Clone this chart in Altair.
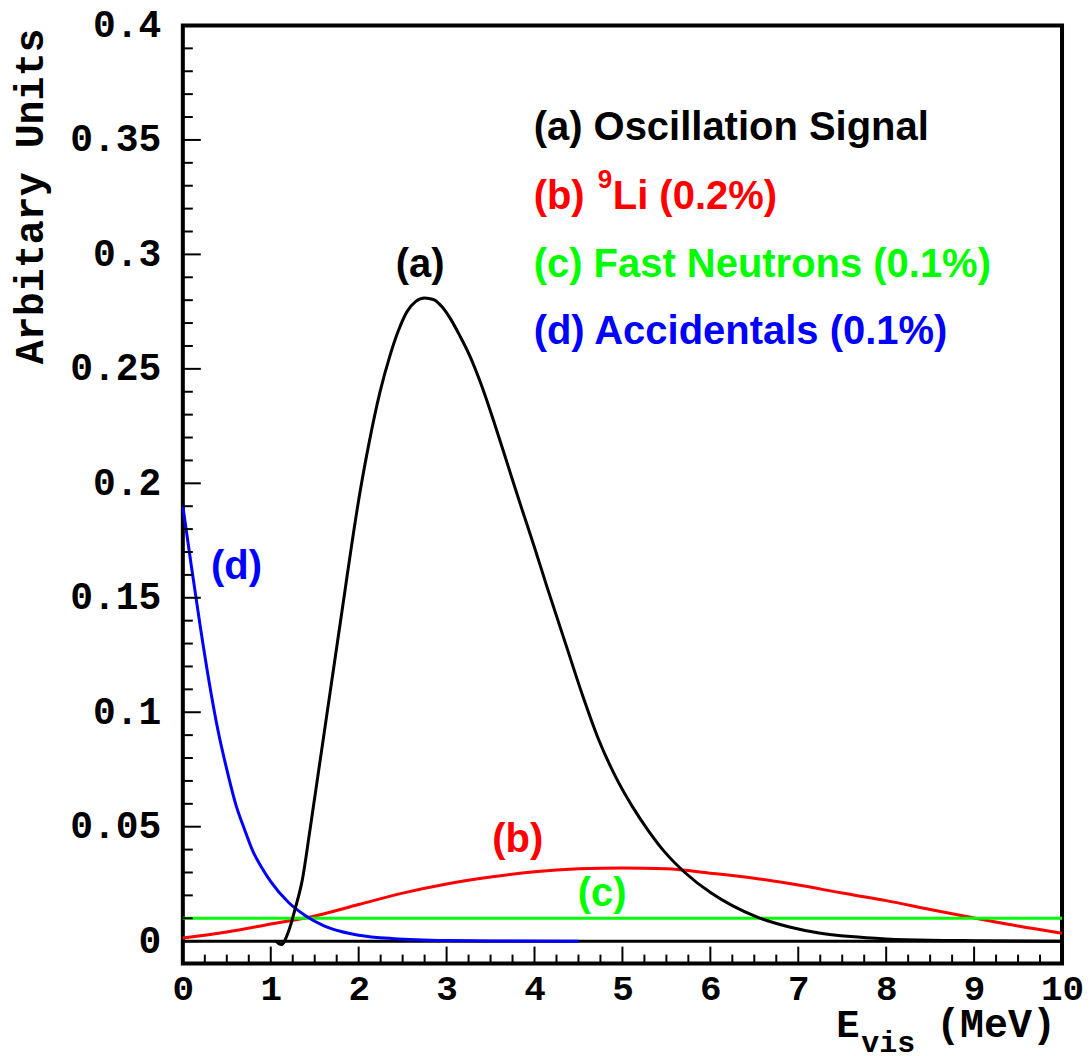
import altair as alt
import pandas as pd

# ---------------- data ----------------
# (a) Oscillation signal
sig_x = [1.06, 1.12, 1.20, 1.28, 1.36, 1.44, 1.52, 1.60, 1.68, 1.76, 1.84, 1.92,
         2.01, 2.12, 2.24, 2.35, 2.45, 2.55, 2.65, 2.75, 2.85, 2.95, 3.05, 3.15,
         3.26, 3.40, 3.55, 3.70, 3.85, 4.00, 4.14, 4.37, 4.55, 4.73, 4.92, 5.11,
         5.30, 5.48, 5.71, 6.01, 6.25, 6.54, 6.90, 7.22, 7.60, 8.0, 8.5, 9.0, 10.0]
sig_y = [0.0, -0.0015, 0.004, 0.0145, 0.027, 0.047, 0.068, 0.089, 0.110, 0.131,
         0.152, 0.173, 0.1950, 0.2180, 0.2395, 0.255, 0.2665, 0.275, 0.2795, 0.281,
         0.2803, 0.2770, 0.2715, 0.2645, 0.2560, 0.2425, 0.2255, 0.2075, 0.1895,
         0.172, 0.155, 0.128, 0.107, 0.088, 0.072, 0.059, 0.048, 0.039, 0.0300,
         0.0210, 0.0155, 0.0104, 0.0062, 0.0037, 0.0020, 0.0010, 0.0004, 0.0002, 0.0]

# (b) 9Li
li_x = [0, 0.5, 1.0, 1.5, 2.0, 2.5, 3.0, 3.5, 4.0, 4.5, 5.0, 5.5, 6.0, 6.5,
        7.0, 7.5, 8.0, 8.5, 9.0, 9.5, 10.0]
li_y = [0.0014, 0.004, 0.0075, 0.011, 0.016, 0.021, 0.025, 0.028, 0.0303,
        0.0316, 0.0320, 0.0316, 0.0297, 0.0275, 0.0245, 0.0210, 0.0177,
        0.0138, 0.0101, 0.0066, 0.0035]

# (c) fast neutrons (flat)
fn_x = [0, 10]
fn_y = [0.01, 0.01]

# (d) accidentals
acc_x = [0, 0.1, 0.2, 0.3, 0.4, 0.5, 0.6, 0.7, 0.8, 0.9, 1.0, 1.2, 1.4, 1.6,
         1.8, 2.0, 2.4, 3.0, 3.6, 4.5]
acc_y = [0.190, 0.163, 0.137, 0.113, 0.092, 0.075, 0.060, 0.049, 0.039, 0.032,
         0.026, 0.017, 0.011, 0.0068, 0.0042, 0.0026, 0.0011, 0.0003, 0.0001, 0.0]

# zero line
zero_x = [0, 10]
zero_y = [0, 0]

# axis ticks
x_major = list(range(0, 11))
x_minor = [i * 0.25 for i in range(41) if i % 4 != 0]
y_major = [round(i * 0.05, 2) for i in range(9)]
y_minor = [round(i * 0.01, 2) for i in range(41) if i % 5 != 0]

# annotations
legend_txt = ["(a) Oscillation Signal", "(b)", "Li (0.2%)",
              "(c) Fast Neutrons (0.1%)", "(d) Accidentals (0.1%)"]
legend_x = [3.99, 3.99, 4.89, 3.99, 3.99]
legend_y = [0.350, 0.320, 0.320, 0.290, 0.261]
legend_col = ["#000000", "#ff0000", "#ff0000", "#00ff00", "#0000ff"]

sup_txt = ["9"]
sup_x = [4.72]
sup_y = [0.329]

curve_lab = ["(a)", "(b)", "(c)", "(d)"]
curve_lab_x = [2.70, 3.81, 4.77, 0.61]
curve_lab_y = [0.290, 0.039, 0.0155, 0.158]
curve_lab_col = ["#000000", "#ff0000", "#00ff00", "#0000ff"]

# ---------------- chart ----------------
W, H = 880, 939
xs = alt.Scale(domain=[0, 10], nice=False, zero=False)
ys = alt.Scale(domain=[-0.0098, 0.4], nice=False, zero=False)

MONO = "Liberation Mono"
SANS = "Liberation Sans"

AX_X = alt.Axis(values=x_major, format="d", ticks=False, domain=False, grid=False,
                labelFont=MONO, labelFontWeight="bold", labelFontSize=36,
                labelColor="black", labelPadding=8, labelFlush=False, title=None)
AX_Y = alt.Axis(values=y_major, format=".2~f", ticks=False, domain=False, grid=False,
                labelFont=MONO, labelFontWeight="bold", labelFontSize=38,
                labelColor="black", labelPadding=22, labelFlush=False, title=None)


def X(field):
    return alt.X(field, scale=xs, axis=AX_X, title=None)


def Y(field):
    return alt.Y(field, scale=ys, axis=AX_Y, title=None)


def line(xv, yv, color, width=3):
    df = pd.DataFrame({"x": xv, "y": yv})
    return alt.Chart(df).mark_line(color=color, strokeWidth=width, interpolate="monotone").encode(
        x=X("x:Q"), y=Y("y:Q"))


xtick_major = alt.Chart(pd.DataFrame({"v": x_major})).mark_rule(color="black", strokeWidth=2).encode(
    x=X("v:Q"), y=alt.value(H), y2=alt.value(H - 17))
xtick_minor = alt.Chart(pd.DataFrame({"v": x_minor})).mark_rule(color="black", strokeWidth=2).encode(
    x=X("v:Q"), y=alt.value(H), y2=alt.value(H - 9))
ytick_major = alt.Chart(pd.DataFrame({"v": y_major})).mark_rule(color="black", strokeWidth=2).encode(
    y=Y("v:Q"), x=alt.value(0), x2=alt.value(18))
ytick_minor = alt.Chart(pd.DataFrame({"v": y_minor})).mark_rule(color="black", strokeWidth=2).encode(
    y=Y("v:Q"), x=alt.value(0), x2=alt.value(10))

leg = alt.Chart(pd.DataFrame({"t": legend_txt, "x": legend_x, "y": legend_y, "c": legend_col})).mark_text(
    font=SANS, fontWeight="bold", fontSize=40, align="left", baseline="alphabetic").encode(
    x=X("x:Q"), y=Y("y:Q"), text="t:N", color=alt.Color("c:N", scale=None))

sup = alt.Chart(pd.DataFrame({"t": sup_txt, "x": sup_x, "y": sup_y})).mark_text(
    font=SANS, fontWeight="bold", fontSize=26, align="left", baseline="alphabetic", color="#ff0000").encode(
    x=X("x:Q"), y=Y("y:Q"), text="t:N")

clab = alt.Chart(pd.DataFrame({"t": curve_lab, "x": curve_lab_x, "y": curve_lab_y, "c": curve_lab_col})).mark_text(
    font=SANS, fontWeight="bold", fontSize=40, align="center", baseline="alphabetic").encode(
    x=X("x:Q"), y=Y("y:Q"), text="t:N", color=alt.Color("c:N", scale=None))

one = pd.DataFrame({"a": [0]})
ytitle = alt.Chart(one).mark_text(
    text="Arbitary Units", font=MONO, fontWeight="bold", fontSize=40, angle=270,
    align="right", baseline="alphabetic", color="black").encode(
    x=alt.value(-140), y=alt.value(3))
xt_E = alt.Chart(one).mark_text(
    text="E", font=MONO, fontWeight="bold", fontSize=39, align="left",
    baseline="alphabetic", color="black").encode(x=alt.value(654), y=alt.value(1012))
xt_vis = alt.Chart(one).mark_text(
    text="vis", font=MONO, fontWeight="bold", fontSize=30, align="left",
    baseline="alphabetic", color="black").encode(x=alt.value(679), y=alt.value(1027))
xt_mev = alt.Chart(one).mark_text(
    text="(MeV)", font=MONO, fontWeight="bold", fontSize=40, align="left",
    baseline="alphabetic", color="black").encode(x=alt.value(754), y=alt.value(1012))

chart = alt.layer(
    line(zero_x, zero_y, "black", 3),
    line(li_x, li_y, "#ff0000", 3),
    line(fn_x, fn_y, "#00ff00", 3),
    line(acc_x, acc_y, "#0000ff", 3),
    line(sig_x, sig_y, "black", 3),
    xtick_major, xtick_minor, ytick_major, ytick_minor,
    leg, sup, clab, ytitle, xt_E, xt_vis, xt_mev,
).properties(
    width=W, height=H,
    autosize=alt.AutoSizeParams(type="none"),
    padding={"left": 175, "top": 17, "right": 21, "bottom": 92},
    background="white",
).configure_view(stroke="black", strokeWidth=4)

chart.save("out.html", embed_options={"renderer": "svg", "actions": False})
